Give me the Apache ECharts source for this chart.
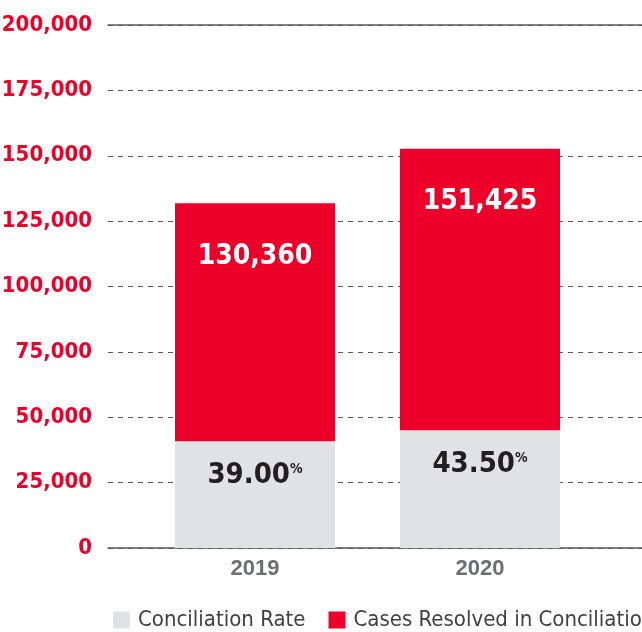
<!DOCTYPE html>
<html>
<head>
<meta charset="utf-8">
<script src="https://cdn.jsdelivr.net/npm/echarts@6/dist/echarts.min.js"></script>
<style>
  html, body { margin: 0; padding: 0; background: #fff; }
  #chart { width: 642px; height: 632px; }
</style>
</head>
<body>
<div id="chart"></div>
<script>
const years = ['2019', '2020'];
// bar heights (axis units)
const rateHeights = [40800, 45000];
const casesTotals = [131800, 152700];
const caseLabels = ['130,360', '151,425'];
const rateLabels = ['39.00', '43.50'];
const yTicks = [0, 25000, 50000, 75000, 100000, 125000, 150000, 175000, 200000];

const RED = '#ec0029';
const GREY = '#e1e2e3';
const NARROW = '"Liberation Sans Narrow", "DejaVu Sans Condensed", "Liberation Sans", sans-serif';

const casesHeights = casesTotals.map((t, i) => t - rateHeights[i]);

const chart = echarts.init(document.getElementById('chart'));

chart.setOption({
  animation: false,
  legend: {
    left: 108,
    top: 604,
    width: 900,
    icon: 'rect',
    itemWidth: 17,
    itemHeight: 17,
    itemGap: 23,
    textStyle: { fontFamily: NARROW, fontSize: 22, color: '#414042', padding: [0, 0, 0, 3] },
    data: ['Conciliation Rate', 'Cases Resolved in Conciliation']
  },
  grid: [
    { left: 108, right: 0, top: 25, bottom: 84, outerBoundsMode: 'none' },
    { left: 142.5, width: 450, top: 25, bottom: 84, outerBoundsMode: 'none' }
  ],
  xAxis: [
    {
      gridIndex: 0, type: 'value', min: 0, max: 1, position: 'bottom',
      axisLine: { lineStyle: { color: '#58595b', width: 1.5 } },
      axisTick: { show: false }, axisLabel: { show: false }, splitLine: { show: false }
    },
    {
      gridIndex: 0, type: 'value', min: 0, max: 1, position: 'top',
      axisLine: { lineStyle: { color: '#58595b', width: 1.5 } },
      axisTick: { show: false }, axisLabel: { show: false }, splitLine: { show: false }
    },
    {
      gridIndex: 1, type: 'category', data: years,
      axisLine: { show: false }, axisTick: { show: false },
      axisLabel: { margin: 10, fontFamily: '"Liberation Sans", sans-serif', fontWeight: 'bold', fontSize: 22, color: '#6d6e71' }
    }
  ],
  yAxis: [
    {
      gridIndex: 0, type: 'value', min: 0, max: 200000, interval: 25000,
      axisLine: { show: false }, axisTick: { show: false },
      axisLabel: {
        margin: 16, fontFamily: NARROW, fontWeight: 'bold', fontSize: 22, color: RED,
        formatter: v => yTicks.indexOf(v) >= 0 ? v.toLocaleString('en-US') : ''
      },
      splitLine: { lineStyle: { color: '#58595b', type: [5, 5], width: 1 } }
    },
    {
      gridIndex: 1, type: 'value', min: 0, max: 200000, show: false
    }
  ],
  series: [
    {
      name: 'Conciliation Rate', type: 'bar', stack: 'total',
      xAxisIndex: 2, yAxisIndex: 1, barWidth: 160,
      itemStyle: { color: GREY },
      label: {
        show: true, position: 'insideTop', distance: 20,
        formatter: p => '{a|' + rateLabels[p.dataIndex] + '}{b|%}',
        rich: {
          a: { fontFamily: NARROW, fontWeight: 'bold', fontSize: 29, lineHeight: 29, color: '#231f20' },
          b: { fontFamily: NARROW, fontWeight: 'bold', fontSize: 14, lineHeight: 29, color: '#231f20', padding: [0, 0, 13, 0] }
        }
      },
      data: rateHeights
    },
    {
      name: 'Cases Resolved in Conciliation', type: 'bar', stack: 'total',
      xAxisIndex: 2, yAxisIndex: 1, barWidth: 160,
      itemStyle: { color: RED },
      label: {
        show: true, position: 'insideTop', distance: 39,
        fontFamily: NARROW, fontWeight: 'bold', fontSize: 28, lineHeight: 28, color: '#fff',
        formatter: p => caseLabels[p.dataIndex]
      },
      data: casesHeights
    }
  ]
});

window.addEventListener('resize', () => chart.resize());
</script>
</body>
</html>
